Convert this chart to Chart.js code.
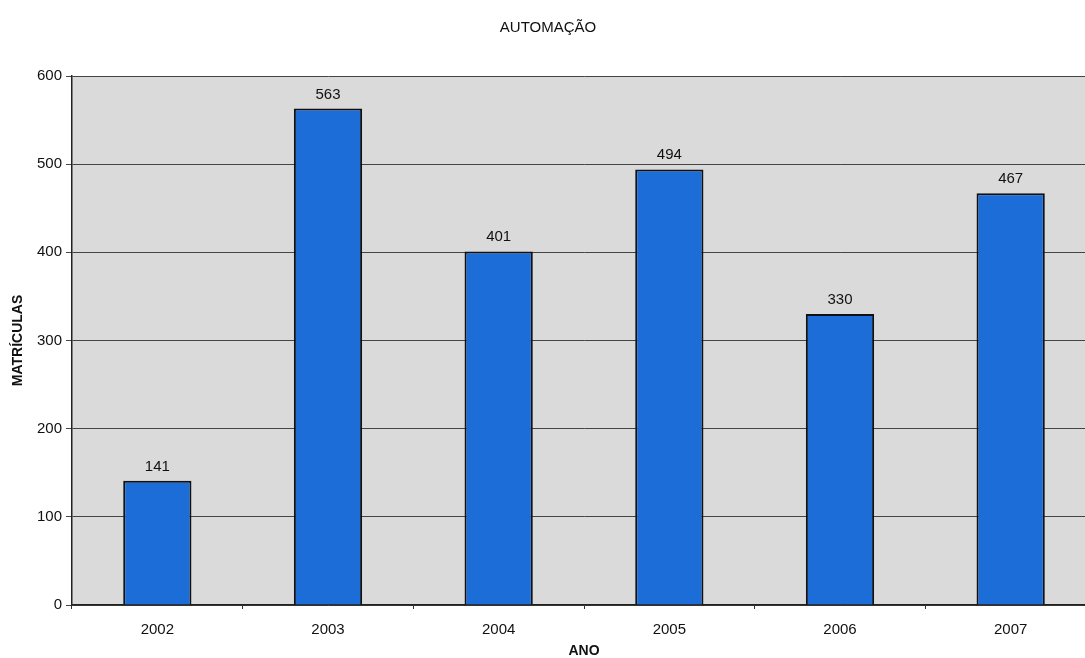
<!DOCTYPE html>
<html>
<head>
<meta charset="utf-8">
<script src="https://cdn.jsdelivr.net/npm/chart.js@4"></script>
<style>
  html, body { margin: 0; padding: 0; background: #fff; overflow: hidden; }
  #wrap { width: 1096px; height: 658px; }
</style>
</head>
<body>
<div id="wrap"><canvas id="grafico" width="1096" height="658"></canvas></div>
<script>
// dados do gráfico
const anos = ["2002", "2003", "2004", "2005", "2006", "2007"];
const matriculas = [141, 563, 401, 494, 330, 467];
const yTicks = [0, 100, 200, 300, 400, 500, 600];

// fundo cinza só na área do gráfico
const fundoArea = {
    id: 'fundoArea',
    beforeDraw(chart) {
        const { ctx, chartArea: a } = chart;
        ctx.save();
        ctx.fillStyle = '#fff';
        ctx.fillRect(0, 0, chart.width, chart.height);
        ctx.fillStyle = '#dadada';
        ctx.fillRect(a.left, a.top, a.right - a.left, a.bottom - a.top);
        ctx.restore();
    }
};

// valores em cima das barras
const rotulos = {
    id: 'rotulos',
    afterDatasetsDraw(chart) {
        const ctx = chart.ctx;
        const meta = chart.getDatasetMeta(0);
        ctx.save();
        ctx.font = '15px "Liberation Sans", Arial, sans-serif';
        ctx.fillStyle = '#111';
        ctx.textAlign = 'center';
        ctx.textBaseline = 'alphabetic';
        meta.data.forEach((bar, i) => {
            ctx.fillText(matriculas[i], bar.x, bar.y - 10);
        });
        ctx.restore();
    }
};

new Chart(document.getElementById('grafico').getContext('2d'), {
    type: 'bar',
    data: {
        labels: anos,
        datasets: [{
            label: 'Matrículas',
            data: matriculas,
            backgroundColor: '#1d6dd8',
            borderColor: '#111111',
            borderWidth: 2,
            barPercentage: 0.4,
            categoryPercentage: 1
        }]
    },
    options: {
        responsive: false,
        animation: false,
        layout: { padding: { left: 0, right: 0, top: 0, bottom: 0 } },
        plugins: {
            legend: { display: false },
            tooltip: { enabled: false },
            title: {
                display: true,
                text: 'AUTOMAÇÃO',
                color: '#111',
                font: { family: '"Liberation Sans", Arial, sans-serif', size: 15, weight: 'normal' },
                padding: { top: 19, bottom: 39 }
            }
        },
        scales: {
            x: {
                afterFit: s => { s.height = 53; },
                grid: { display: true, drawOnChartArea: false, drawTicks: true, tickLength: 4, color: '#333', offset: true },
                border: { display: true, color: '#222', width: 1.5 },
                ticks: { color: '#111', padding: 12, font: { family: '"Liberation Sans", Arial, sans-serif', size: 15 } },
                title: {
                    display: true,
                    text: 'ANO',
                    color: '#111',
                    font: { family: '"Liberation Sans", Arial, sans-serif', size: 14, weight: 'bold', lineHeight: 1 },
                    padding: 0
                }
            },
            y: {
                min: 0,
                max: 600,
                afterFit: s => { s.width = 72; },
                afterBuildTicks: s => { s.ticks = yTicks.map(v => ({ value: v })); },
                grid: { color: '#444', lineWidth: 1, tickLength: 6 },
                border: { display: true, color: '#222', width: 1.5 },
                ticks: { color: '#111', padding: 4, font: { family: '"Liberation Sans", Arial, sans-serif', size: 15 } },
                title: {
                    display: true,
                    text: 'MATRÍCULAS',
                    color: '#111',
                    font: { family: '"Liberation Sans", Arial, sans-serif', size: 14, weight: 'bold' },
                    padding: { top: 10, bottom: 0 }
                }
            }
        }
    },
    plugins: [fundoArea, rotulos]
});
</script>
</body>
</html>
